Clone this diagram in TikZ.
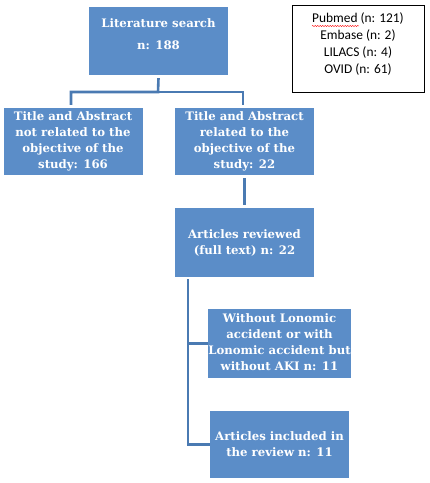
\documentclass[tikz,border=0pt]{standalone}
\usepackage{fontspec}
\setmainfont{DejaVu Serif}
\newfontfamily\dbfont{Carlito}
\usetikzlibrary{positioning,decorations.pathmorphing}
\definecolor{boxblue}{RGB}{91,141,200}
\definecolor{lineblue}{RGB}{74,122,178}

\begin{document}
\begin{tikzpicture}[x=1pt,y=-1pt
    , step box/.style = {rectangle,fill=boxblue,text=white,align=center,inner sep=0pt,
        minimum width=139pt,font=\bfseries\fontsize{11.7}{16}\selectfont}
    , link/.style = {draw=lineblue,line width=2.6pt}
]
\useasboundingbox (0,0) rectangle (430,483);
\node[step box,minimum height=68pt] (search) at (158.5,41) {Literature search\\[6pt]n: 188\\[-3pt]};
\node[draw=black,fill=white,thick,minimum width=132pt,minimum height=87pt,align=center,
    font=\dbfont\fontsize{13.4}{17}\selectfont] (dbs) at (358,48.5)
    {Pubmed (n: 121)\\Embase (n: 2)\\LILACS (n: 4)\\OVID (n: 61)\\[-7pt]};
\draw[red,thin,decorate,decoration={snake,amplitude=0.6pt,segment length=2.5pt}] (312,26) -- (359,26);
\node[step box,minimum height=67pt] (notrel) at (73,141.5)
    {Title and Abstract\\not related to the\\objective of the\\study: 166};
\node[step box,minimum height=67pt] (rel) at (244.5,141.5)
    {Title and Abstract\\related to the\\objective of the\\study: 22};
\node[step box,minimum height=69pt] (full) at (244.5,242.5) {Articles reviewed\\(full text) n: 22};
\node[step box,minimum height=69pt] (excl) at (279.5,343.5)
    {\\[-10pt]Without Lonomic\\accident or with\\Lonomic accident but\\without AKI n: 11};
\node[step box,minimum height=67pt] (incl) at (279.5,444.5) {Articles included in\\the review n: 11};
% connectors
\coordinate (split) at (158,92);
\coordinate (spine) at (188,279);
\draw[link] ([yshift=-3pt]search.south) -- (split) -| ([xshift=-2pt,yshift=3pt]notrel.north);
\draw[link] (split) -| ([xshift=-1.5pt,yshift=3pt]rel.north);
\draw[link] ([yshift=-3pt]rel.south) -- ([yshift=3pt]full.north);
\foreach \b in {excl, incl}
    \draw[link] (spine) |- (\b.west);
\end{tikzpicture}
\end{document}
